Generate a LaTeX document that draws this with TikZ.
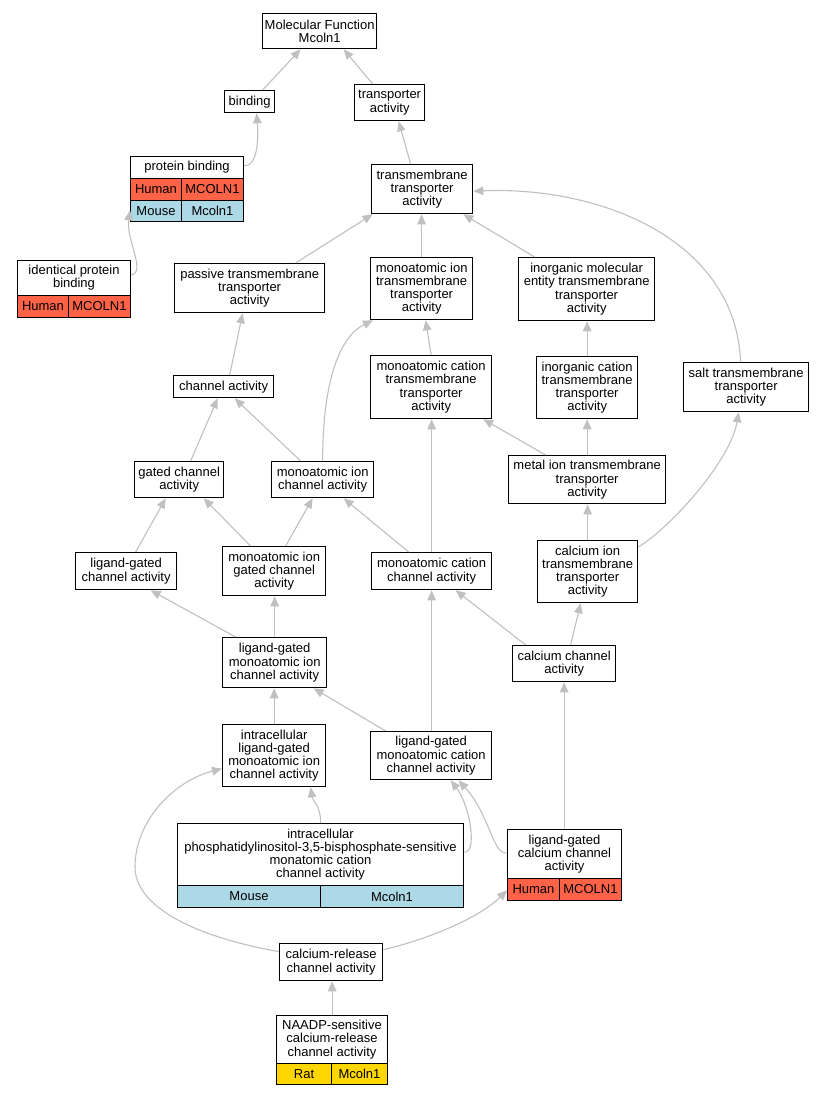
\documentclass[tikz,border=0pt]{standalone}
\usepackage{fontspec}
\setmainfont{Liberation Sans}
\usetikzlibrary{arrows.meta}
\definecolor{edgegray}{HTML}{C0C0C0}
\definecolor{human}{HTML}{FF6347}
\definecolor{mouse}{HTML}{ADD8E6}
\definecolor{rat}{HTML}{FFD700}
\begin{document}
\begin{tikzpicture}[x=1pt,y=-1pt,
  gobox/.style={draw=black, line width=1.3pt, fill=white, inner sep=0pt, align=center, anchor=north west, font=\fontsize{13}{13.2}\selectfont},
  gocell/.style={draw=black, line width=1pt, inner sep=0pt, align=center, anchor=north west, font=\fontsize{13}{13.2}\selectfont},
  goouter/.style={draw=black, line width=1.3pt, inner sep=0pt, anchor=north west},
  conn/.style={draw=edgegray, line width=1.1pt, -{Triangle[length=10pt,width=8.5pt]}, edgegray}]
\fill[white] (0,0) rectangle (824,1096);
\useasboundingbox (0,0) rectangle (824,1096);

% ---------- plain nodes ----------
\node[gobox, minimum width=114pt, minimum height=35pt] (mf) at (262,13) {Molecular Function\\Mcoln1};
\node[gobox, minimum width=50pt, minimum height=22pt] (bind) at (224,90) {binding};
\node[gobox, minimum width=70pt, minimum height=36pt] (trans) at (354,84) {transporter\\activity};
\node[gobox, minimum width=101pt, minimum height=49pt] (tm) at (371,164) {transmembrane\\transporter\\activity};
\node[gobox, minimum width=150pt, minimum height=49pt] (pass) at (174,263) {passive transmembrane\\transporter\\activity};
\node[gobox, minimum width=102pt, minimum height=62pt] (mitm) at (370,257) {monoatomic ion\\transmembrane\\transporter\\activity};
\node[gobox, minimum width=136pt, minimum height=63pt] (imetm) at (518,257) {inorganic molecular\\entity transmembrane\\transporter\\activity};
\node[gobox, minimum width=100pt, minimum height=22pt] (chan) at (173,375) {channel activity};
\node[gobox, minimum width=121pt, minimum height=63pt] (mctm) at (370,355) {monoatomic cation\\transmembrane\\transporter\\activity};
\node[gobox, minimum width=101pt, minimum height=62pt] (ictm) at (536,356) {inorganic cation\\transmembrane\\transporter\\activity};
\node[gobox, minimum width=125pt, minimum height=49pt] (salt) at (683,362) {salt transmembrane\\transporter\\activity};
\node[gobox, minimum width=89pt, minimum height=36pt] (gated) at (134,461) {gated channel\\activity};
\node[gobox, minimum width=102pt, minimum height=36pt] (mic) at (271,461) {monoatomic ion\\channel activity};
\node[gobox, minimum width=157pt, minimum height=48pt] (metal) at (508,455) {metal ion transmembrane\\transporter\\activity};
\node[gobox, minimum width=101pt, minimum height=37pt] (lgc) at (75,552) {ligand-gated\\channel activity};
\node[gobox, minimum width=103pt, minimum height=49pt] (migc) at (222,546) {monoatomic ion\\gated channel\\activity};
\node[gobox, minimum width=120pt, minimum height=37pt] (mcc) at (371,552) {monoatomic cation\\channel activity};
\node[gobox, minimum width=100pt, minimum height=62pt] (citm) at (537,540) {calcium ion\\transmembrane\\transporter\\activity};
\node[gobox, minimum width=104pt, minimum height=50pt] (lgmic) at (222,637) {ligand-gated\\monoatomic ion\\channel activity};
\node[gobox, minimum width=103pt, minimum height=36pt] (cc) at (512,645) {calcium channel\\activity};
\node[gobox, minimum width=103pt, minimum height=62pt] (ilgmic) at (222,724) {intracellular\\ligand-gated\\monoatomic ion\\channel activity};
\node[gobox, minimum width=121pt, minimum height=48pt] (lgmcc) at (370,731) {ligand-gated\\monoatomic cation\\channel activity};
\node[gobox, minimum width=103pt, minimum height=37pt] (cr) at (279,943) {calcium-release\\channel activity};

% ---------- table nodes ----------
% protein binding
\node[gocell, fill=white, minimum width=113pt, minimum height=22pt] (pbt) at (130,156) {protein binding};
\node[gocell, fill=human, minimum width=51pt, minimum height=21.5pt] (pbh1) at (130,178) {Human};
\node[gocell, fill=human, minimum width=62pt, minimum height=21.5pt] (pbh2) at (181,178) {MCOLN1};
\node[gocell, fill=mouse, minimum width=51pt, minimum height=21.5pt] (pbm1) at (130,199.5) {Mouse};
\node[gocell, fill=mouse, minimum width=62pt, minimum height=21.5pt] (pbm2) at (181,199.5) {Mcoln1};
\node[goouter, minimum width=113pt, minimum height=65pt] (pb) at (130,156) {};
% identical protein binding
\node[gocell, fill=white, minimum width=113pt, minimum height=35pt] (ipbt) at (17,260) {identical protein\\binding};
\node[gocell, fill=human, minimum width=51pt, minimum height=22pt] (ipbh1) at (17,295) {Human};
\node[gocell, fill=human, minimum width=62pt, minimum height=22pt] (ipbh2) at (68,295) {MCOLN1};
\node[goouter, minimum width=113pt, minimum height=57pt] (ipb) at (17,260) {};
% intracellular PI(3,5)P2-sensitive
\node[gocell, fill=white, minimum width=286pt, minimum height=62pt] (pit) at (177,823) {intracellular\\phosphatidylinositol-3,5-bisphosphate-sensitive\\monatomic cation\\channel activity};
\node[gocell, fill=mouse, minimum width=143pt, minimum height=22pt] (pim1) at (177,885) {Mouse};
\node[gocell, fill=mouse, minimum width=143pt, minimum height=22pt] (pim2) at (320,885) {Mcoln1};
\node[goouter, minimum width=286pt, minimum height=84pt] (pi) at (177,823) {};
% ligand-gated calcium channel activity
\node[gocell, fill=white, minimum width=114pt, minimum height=49pt] (lgcct) at (507,829) {ligand-gated\\calcium channel\\activity};
\node[gocell, fill=human, minimum width=52pt, minimum height=22pt] (lgcch1) at (507,878) {Human};
\node[gocell, fill=human, minimum width=62pt, minimum height=22pt] (lgcch2) at (559,878) {MCOLN1};
\node[goouter, minimum width=114pt, minimum height=71pt] (lgcc) at (507,829) {};
% NAADP-sensitive
\node[gocell, fill=white, minimum width=111pt, minimum height=48pt] (naadpt) at (276,1015) {NAADP-sensitive\\calcium-release\\channel activity};
\node[gocell, fill=rat, minimum width=55pt, minimum height=21pt] (naadpr1) at (276,1063) {Rat};
\node[gocell, fill=rat, minimum width=56pt, minimum height=21pt] (naadpr2) at (331,1063) {Mcoln1};
\node[goouter, minimum width=111pt, minimum height=69pt] (naadp) at (276,1015) {};

% ---------- connectors ----------
\draw[conn] ([xshift=13pt]bind.north) -- ([xshift=-19pt]mf.south);
\draw[conn] ([xshift=-17pt]trans.north) -- ([xshift=24pt]mf.south);
\draw[conn] ([yshift=-10pt]pb.north east) .. controls +(13,0) and +(2,27) .. ([xshift=7pt]bind.south);
\draw[conn] ([xshift=-11.5pt]tm.north) -- ([xshift=9pt]trans.south);
\draw[conn] ([yshift=-15pt]ipb.north east) .. controls +(15,-3) and +(-4,29) .. ([yshift=12pt]pb.south west);
\draw[conn] ([xshift=46pt]pass.north) -- ([xshift=-49.5pt]tm.south);
\draw[conn] (mitm.north) -- (mitm.north |- tm.south);
\draw[conn] ([xshift=-52pt]imetm.north) -- ([xshift=-10pt]tm.south east);
\draw[conn] ([xshift=-5.5pt]salt.north) .. controls +(-5,-122) and +(128,-5) .. ([yshift=-2pt]tm.east);
\draw[conn] ([xshift=6pt]chan.north) -- ([xshift=-7pt]pass.south);
\draw[conn] (mctm.north) -- ([xshift=4pt]mitm.south);
\draw[conn] (ictm.north) -- (ictm.north |- imetm.south);
\draw[conn] ([xshift=11.5pt]gated.north) -- ([xshift=-6pt]chan.south);
\draw[conn] ([xshift=-22pt]mic.north) -- ([xshift=11pt]chan.south);
\draw[conn] (mic.north) .. controls +(0,-81) and +(-33,16) .. ([xshift=3pt]mitm.south west);
\draw[conn] ([xshift=-41.5pt]metal.north) -- ([xshift=-9pt]mctm.south east);
\draw[conn] (metal.north) -- (metal.north |- ictm.south);
\draw[conn] (citm.north) -- (citm.north |- metal.south);
\draw[conn] ([yshift=-7pt]citm.north east) .. controls +(33,-20) and +(-8,48) .. ([xshift=-7.5pt]salt.south);
\draw[conn] ([xshift=9.5pt]lgc.north) -- ([xshift=-13.5pt]gated.south);
\draw[conn] ([xshift=-23.5pt]migc.north) -- ([xshift=24.5pt]gated.south);
\draw[conn] ([xshift=11.5pt]migc.north) -- ([xshift=-10pt]mic.south);
\draw[conn] ([xshift=-23pt]mcc.north) -- ([xshift=21pt]mic.south);
\draw[conn] (mcc.north) -- (mcc.north |- mctm.south);
\draw[conn] ([xshift=-39pt]lgmic.north) -- ([xshift=24.5pt]lgc.south);
\draw[conn] (lgmic.north) -- (lgmic.north |- migc.south);
\draw[conn] ([xshift=-38.5pt]cc.north) -- ([xshift=24pt]mcc.south);
\draw[conn] ([xshift=6.5pt]cc.north) -- ([xshift=-7pt]citm.south);
\draw[conn] (ilgmic.north) -- (ilgmic.north |- lgmic.south);
\draw[conn] ([xshift=-45.5pt]lgmcc.north) -- ([xshift=39pt]lgmic.south);
\draw[conn] (mcc.south |- lgmcc.north) -- (mcc.south);
\draw[conn] (pi.north) .. controls +(0,-18) and +(2,14) .. ([xshift=36.5pt]ilgmic.south);
\draw[conn] ([yshift=-29pt]pi.north east) .. controls +(13,2) and +(20,26) .. ([xshift=19.5pt]lgmcc.south);
\draw[conn] ([yshift=-24pt]lgcc.north west) .. controls +(-15,1) and +(32,36) .. ([xshift=27.5pt]lgmcc.south);
\draw[conn] (cc.south |- lgcc.north) -- (cc.south);
\draw[conn] ([yshift=10.5pt]cr.west) .. controls +(-89,-16) and +(0,38) .. (135,867) .. controls +(0,-47) and +(-47,12) .. ([yshift=-13pt]ilgmic.west);
\draw[conn] ([yshift=12.5pt]cr.east) .. controls +(48,-11) and +(-26,26) .. ([yshift=11pt]lgcc.south west);
\draw[conn] (naadp.north) -- (naadp.north |- cr.south);
\end{tikzpicture}
\end{document}
